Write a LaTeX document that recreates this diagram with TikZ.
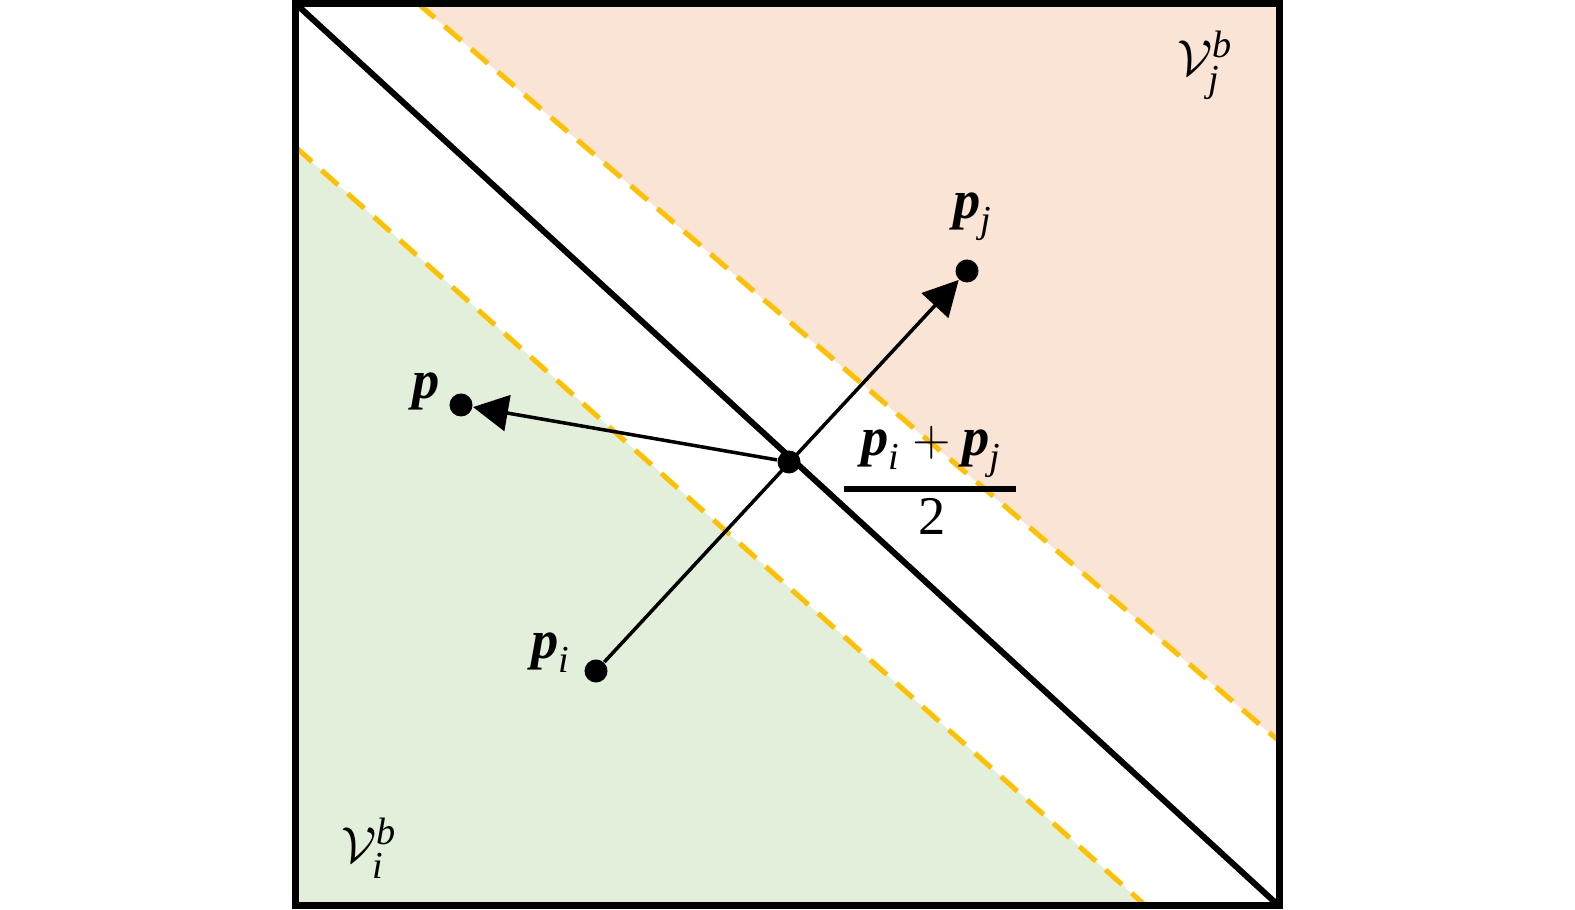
\documentclass[tikz,border=0pt]{standalone}
\usepackage{amsmath}
\usepackage{fontspec}
\setmainfont{Liberation Serif}
\usetikzlibrary{arrows.meta}
\definecolor{peach}{HTML}{FAE4D6}
\definecolor{mint}{HTML}{E2EFDA}
\definecolor{gold}{HTML}{FFC000}
\newcommand{\bvec}{\textbf{\textit{p}}}
\newcommand{\isub}[1]{\text{\itshape #1}}
\tikzset{
  frame/.style={line width=0.07cm, line join=miter},
  border/.style={line width=0.06cm},
  band/.style={gold, line width=0.05cm, dash pattern=on 0.22cm off 0.13cm},
  dotnode/.style={circle, fill=black, inner sep=0pt, minimum size=0.23cm},
  vecline/.style={line width=0.035cm},
  tip/.style={-{Triangle[length=0.35cm,width=0.36cm]}},
  lbl/.style={inner sep=0pt, font=\fontsize{15.5}{18}\selectfont},
}
\begin{document}
\begin{tikzpicture}[x=0.01cm, y=-0.01cm]
\useasboundingbox (0,0) rectangle (1575,910);
% frame corners
\coordinate (TL) at (295.5,3.5);
\coordinate (TR) at (1279,3.5);
\coordinate (BR) at (1279,906);
\coordinate (BL) at (295.5,906);
% band ends
\coordinate (UA) at (418,3.5);
\coordinate (UB) at (1279,741);
\coordinate (LA) at (295.5,147);
\coordinate (LB) at (1146,906);
% regions
\fill[peach] (UA) -- (TR) -- (UB) -- cycle;
\fill[mint] (LA) -- (LB) -- (BL) -- cycle;
\draw[band] (UA) -- (UB);
\draw[band] (LA) -- (LB);
% bisector
\draw[border] (TL) -- (BR);
% frame
\draw[frame] (TL) rectangle (BR);
% points
\node[dotnode] (P) at (461,405) {};
\node[dotnode] (Pj) at (967,271) {};
\node[dotnode] (Pi) at (596,671) {};
\node[dotnode] (M) at (789,462) {};
% vectors
\draw[vecline, tip] (Pi) -- (Pj);
\draw[vecline, tip] (M) -- (P);
% labels
\node[lbl, anchor=base west] (Lp) at (412,398.5) {\bvec};
\node[lbl, anchor=base west] (Lpi) at (531,658.5) {$\bvec_{\isub{i}}$};
\node[lbl, anchor=base west] (Lpj) at (953,218.5) {$\bvec_{\isub{j}}$};
\node[lbl, anchor=base west] (Num) at (861,455.5) {$\bvec_{\isub{i}} + \bvec_{\isub{j}}$};
\coordinate (BarA) at (844,489);
\coordinate (BarB) at (1016,489);
\draw[line width=0.055cm] (BarA) -- (BarB);
\node[lbl, anchor=base] (Den) at (932,535) {2};
\node[lbl, anchor=base west] (Vj) at (1177,76) {$\mathcal{V}^{\isub{b}}_{\isub{j}}$};
\node[lbl, anchor=base west] (Vi) at (341,863) {$\mathcal{V}^{\isub{b}}_{\isub{i}}$};
\end{tikzpicture}
\end{document}
